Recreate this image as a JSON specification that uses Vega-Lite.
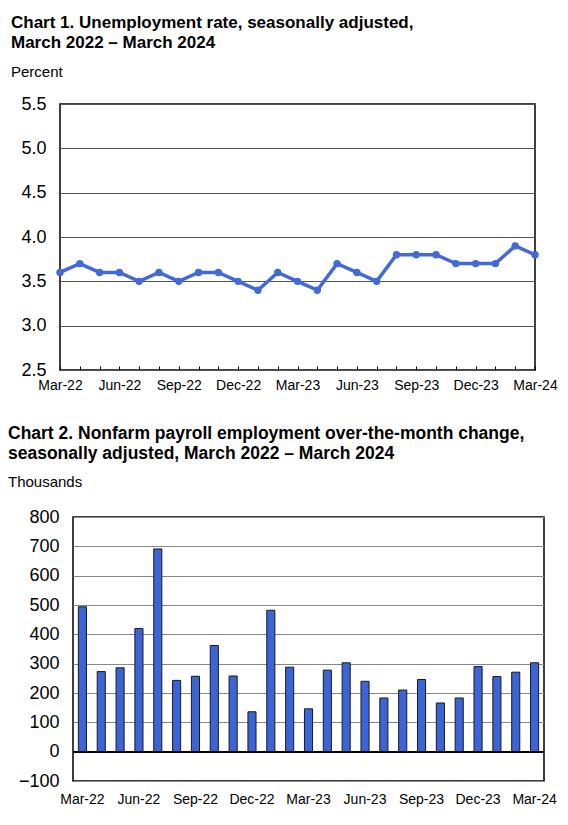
{
  "$schema": "https://vega.github.io/schema/vega-lite/v6.json",
  "description": "Unemployment rate and nonfarm payroll employment change, March 2022 - March 2024.",
  "padding": {"left": 6, "top": 13, "right": 4, "bottom": 4},
  "spacing": 30,
  "config": {
    "font": "Liberation Sans",
    "view": {"stroke": "black", "strokeWidth": 1.5},
    "title": {
      "anchor": "start",
      "frame": "bounds",
      "font": "Liberation Sans",
      "fontSize": 17,
      "fontWeight": "bold",
      "lineHeight": 20,
      "color": "black",
      "subtitleFont": "Liberation Sans",
      "subtitleFontSize": 15,
      "subtitleColor": "black",
      "subtitlePadding": 13,
      "offset": 14
    },
    "axis": {"labelColor": "black", "labelFont": "Liberation Sans", "domain": false, "title": null, "labelOverlap": false}
  },
  "vconcat": [
    {
      "title": {
        "text": ["Chart 1. Unemployment rate, seasonally adjusted,", "March 2022 – March 2024"],
        "subtitle": "Percent",
        "dx": 3
      },
      "width": 475,
      "height": 266,
      "data": {
        "values": [
          {"month": "Mar-22", "rate": 3.6},
          {"month": "Apr-22", "rate": 3.7},
          {"month": "May-22", "rate": 3.6},
          {"month": "Jun-22", "rate": 3.6},
          {"month": "Jul-22", "rate": 3.5},
          {"month": "Aug-22", "rate": 3.6},
          {"month": "Sep-22", "rate": 3.5},
          {"month": "Oct-22", "rate": 3.6},
          {"month": "Nov-22", "rate": 3.6},
          {"month": "Dec-22", "rate": 3.5},
          {"month": "Jan-23", "rate": 3.4},
          {"month": "Feb-23", "rate": 3.6},
          {"month": "Mar-23", "rate": 3.5},
          {"month": "Apr-23", "rate": 3.4},
          {"month": "May-23", "rate": 3.7},
          {"month": "Jun-23", "rate": 3.6},
          {"month": "Jul-23", "rate": 3.5},
          {"month": "Aug-23", "rate": 3.8},
          {"month": "Sep-23", "rate": 3.8},
          {"month": "Oct-23", "rate": 3.8},
          {"month": "Nov-23", "rate": 3.7},
          {"month": "Dec-23", "rate": 3.7},
          {"month": "Jan-24", "rate": 3.7},
          {"month": "Feb-24", "rate": 3.9},
          {"month": "Mar-24", "rate": 3.8}
        ]
      },
      "encoding": {
        "x": {
          "field": "month",
          "type": "ordinal",
          "sort": null,
          "scale": {"type": "point", "padding": 0},
          "axis": {
            "labelAngle": 0,
            "labelFontSize": 14,
            "labelPadding": 12,
            "labelExpr": "test(/^(Mar|Jun|Sep|Dec)/, datum.value) ? datum.value : ''",
            "ticks": true,
            "tickSize": -4,
            "tickColor": "black",
            "grid": false
          }
        },
        "y": {
          "field": "rate",
          "type": "quantitative",
          "scale": {"domain": [2.5, 5.5]},
          "axis": {
            "values": [2.5, 3, 3.5, 4, 4.5, 5, 5.5],
            "format": ".1f",
            "labelFontSize": 18,
            "labelPadding": 14,
            "ticks": false,
            "grid": true,
            "gridColor": "#555555",
            "gridWidth": 1,
            "minExtent": 52
          }
        }
      },
      "layer": [
        {"mark": {"type": "line", "color": "#4169D8", "strokeWidth": 3.5}},
        {"mark": {"type": "point", "filled": true, "color": "#4169D8", "size": 55, "opacity": 1}}
      ]
    },
    {
      "spacing": -58,
      "hconcat": [
        {
          "width": 1,
          "height": 1,
          "view": {"stroke": null},
          "data": {"values": [{}]},
          "mark": {"type": "point", "opacity": 0}
        },
        {
          "title": {
            "text": ["Chart 2. Nonfarm payroll employment over-the-month change,", "seasonally adjusted, March 2022 – March 2024"],
            "subtitle": "Thousands",
            "fontSize": 17.5,
            "offset": 18,
            "dx": 1
          },
          "width": 471,
          "height": 264,
          "data": {
            "values": [
              {"month": "Mar-22", "change": 494},
              {"month": "Apr-22", "change": 273},
              {"month": "May-22", "change": 286},
              {"month": "Jun-22", "change": 420},
              {"month": "Jul-22", "change": 691},
              {"month": "Aug-22", "change": 243},
              {"month": "Sep-22", "change": 257},
              {"month": "Oct-22", "change": 362},
              {"month": "Nov-22", "change": 258},
              {"month": "Dec-22", "change": 136},
              {"month": "Jan-23", "change": 482},
              {"month": "Feb-23", "change": 288},
              {"month": "Mar-23", "change": 146},
              {"month": "Apr-23", "change": 278},
              {"month": "May-23", "change": 303},
              {"month": "Jun-23", "change": 240},
              {"month": "Jul-23", "change": 183},
              {"month": "Aug-23", "change": 210},
              {"month": "Sep-23", "change": 246},
              {"month": "Oct-23", "change": 166},
              {"month": "Nov-23", "change": 183},
              {"month": "Dec-23", "change": 290},
              {"month": "Jan-24", "change": 256},
              {"month": "Feb-24", "change": 271},
              {"month": "Mar-24", "change": 303}
            ]
          },
          "encoding": {
            "y": {
              "field": "change",
              "type": "quantitative",
              "scale": {"domain": [-100, 800]},
              "axis": {
                "values": [-100, 0, 100, 200, 300, 400, 500, 600, 700, 800],
                "labelFontSize": 18,
                "labelPadding": 14,
                "ticks": false,
                "grid": true,
                "gridColor": "#888888",
                "gridWidth": 1,
                "minExtent": 66
              }
            }
          },
          "layer": [
            {
              "mark": {"type": "bar", "color": "#3B64D6", "stroke": "#1a1a1a", "strokeWidth": 1},
              "encoding": {
                "x": {
                  "field": "month",
                  "type": "ordinal",
                  "sort": null,
                  "scale": {"type": "band", "paddingInner": 0.57, "paddingOuter": 0.285},
                  "axis": {
                    "labelAngle": 0,
                    "labelFontSize": 14,
                    "labelPadding": 11,
                    "labelExpr": "test(/^(Mar|Jun|Sep|Dec)/, datum.value) ? datum.value : ''",
                    "ticks": false,
                    "grid": false
                  }
                }
              }
            },
            {
              "mark": {"type": "rule", "color": "black", "strokeWidth": 1.5},
              "encoding": {"y": {"datum": 0}}
            }
          ]
        }
      ]
    }
  ]
}
